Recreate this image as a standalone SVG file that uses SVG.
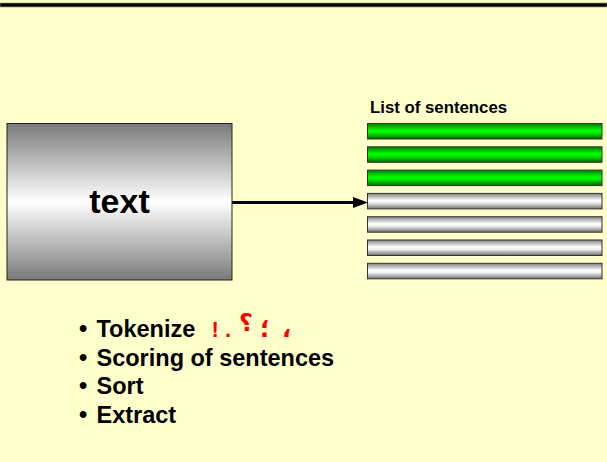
<svg xmlns="http://www.w3.org/2000/svg" width="607" height="462" viewBox="0 0 607 462">
  <style>
    .lbl { font-family: "Liberation Sans", Arial, sans-serif; font-weight: bold; fill: #000; }
    .step { font-size: 23.5px; }
    .bar { stroke: #333; stroke-width: 1; }
    .punct { font-family: "DejaVu Sans", "Liberation Sans", sans-serif; font-weight: bold; fill: #FF0000; font-size: 24px; }
    .latin { font-family: "Liberation Sans", Arial, sans-serif; font-size: 22px; }
  </style>
  <defs>
    <linearGradient id="boxGrad" x1="0" y1="0" x2="0" y2="1">
      <stop offset="0" stop-color="#7a7a7a"/>
      <stop offset="0.5" stop-color="#ffffff"/>
      <stop offset="1" stop-color="#7a7a7a"/>
    </linearGradient>
    <linearGradient id="greenGrad" x1="0" y1="0" x2="0" y2="1">
      <stop offset="0" stop-color="#007a00"/>
      <stop offset="0.45" stop-color="#00ff00"/>
      <stop offset="0.6" stop-color="#00f000"/>
      <stop offset="1" stop-color="#006600"/>
    </linearGradient>
    <linearGradient id="grayGrad" x1="0" y1="0" x2="0" y2="1">
      <stop offset="0" stop-color="#808080"/>
      <stop offset="0.45" stop-color="#ffffff"/>
      <stop offset="0.6" stop-color="#f0f0f0"/>
      <stop offset="1" stop-color="#707070"/>
    </linearGradient>
  </defs>

  <!-- page background and top rule -->
  <rect x="0" y="0" width="607" height="462" fill="#FFFFCC"/>
  <rect x="0" y="3" width="607" height="4" fill="#000" stroke="#999966" stroke-width="0.7"/>

  <!-- source document -->
  <g id="text-node">
    <rect x="7" y="123.5" width="225" height="156.5" fill="url(#boxGrad)" stroke="#222" stroke-width="1"/>
    <text class="lbl" x="119.5" y="213" font-size="34" text-anchor="middle">text</text>
  </g>

  <!-- sentence list -->
  <g id="sentence-list">
    <text class="lbl" x="370" y="113.3" font-size="16.8">List of sentences</text>
    <rect class="bar" x="367.5" y="123.5" width="234.5" height="15.5" fill="url(#greenGrad)"/>
    <rect class="bar" x="367.5" y="146.8" width="234.5" height="15.5" fill="url(#greenGrad)"/>
    <rect class="bar" x="367.5" y="170.1" width="234.5" height="15.5" fill="url(#greenGrad)"/>
    <rect class="bar" x="367.5" y="193.4" width="234.5" height="15.5" fill="url(#grayGrad)"/>
    <rect class="bar" x="367.5" y="216.7" width="234.5" height="15.5" fill="url(#grayGrad)"/>
    <rect class="bar" x="367.5" y="240" width="234.5" height="15.5" fill="url(#grayGrad)"/>
    <rect class="bar" x="367.5" y="263.3" width="234.5" height="15.5" fill="url(#grayGrad)"/>
  </g>

  <!-- connectors -->
  <g id="connectors">
    <line x1="232" y1="202.5" x2="355" y2="202.5" stroke="#000" stroke-width="3"/>
    <path d="M353,197 L368,202.5 L353,208 Z" fill="#000"/>
  </g>

  <!-- processing steps -->
  <g id="steps">
    <text class="lbl step" x="79" y="337">•</text>
    <text class="lbl step" x="96.5" y="337">Tokenize</text>
    <text class="punct latin" x="211.5" y="337">!</text>
    <text class="punct latin" x="225" y="337">.</text>
    <text class="punct" x="239" y="331">؟</text>
    <text class="punct" x="260" y="337">؛</text>
    <text class="punct" x="282" y="337">،</text>
    <text class="lbl step" x="79" y="365.5">•</text>
    <text class="lbl step" x="96.5" y="365.5">Scoring of sentences</text>
    <text class="lbl step" x="79" y="394">•</text>
    <text class="lbl step" x="96.5" y="394">Sort</text>
    <text class="lbl step" x="79" y="422.5">•</text>
    <text class="lbl step" x="96.5" y="422.5">Extract</text>
  </g>
</svg>
